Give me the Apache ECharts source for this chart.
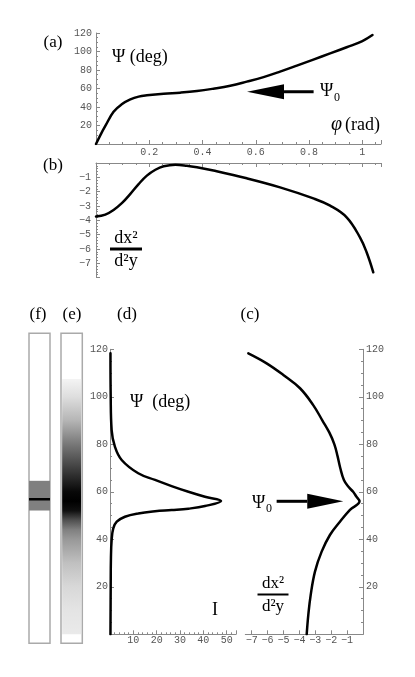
<!DOCTYPE html>
<html>
<head>
<meta charset="utf-8">
<script src="https://cdn.jsdelivr.net/npm/echarts@6/dist/echarts.min.js"></script>
<style>
html, body { margin: 0; padding: 0; background: #fff; }
#chart { width: 415px; height: 677px; }
</style>
</head>
<body>
<div id="chart"></div>
<script>
// (a) Psi (deg) against phi (rad)
const phiA = [0, 0.016, 0.035, 0.066, 0.098, 0.129, 0.16, 0.191, 0.254, 0.316, 0.379, 0.441, 0.504, 0.566, 0.629, 0.691, 0.754, 0.816, 0.879, 0.941, 1.0, 1.038];
const psiA = [0, 9.4, 19.5, 34.9, 43.2, 48.2, 51.2, 52.6, 54.4, 55.5, 57.2, 59.8, 63.0, 67.4, 72.3, 78.2, 84.7, 91.3, 97.9, 104.6, 111.3, 117.8];

// (b) dx2/d2y against phi
const phiB = [0, 0.035, 0.066, 0.098, 0.129, 0.16, 0.191, 0.223, 0.254, 0.298, 0.341, 0.379, 0.441, 0.566, 0.691, 0.816, 0.879, 0.941, 0.991, 1.016, 1.041];
const curvB = [-3.74, -3.6, -3.28, -2.79, -2.16, -1.47, -0.88, -0.47, -0.23, -0.12, -0.19, -0.3, -0.53, -1.07, -1.7, -2.47, -2.98, -3.79, -5.19, -6.23, -7.63];

// (d) intensity I against Psi
const psiD = [0, 20, 32, 39.7, 44.6, 47.4, 49.5, 50.9, 51.8, 52.3, 52.9, 54.0, 56.1, 57.9, 60.0, 62.4, 65.0, 67.8, 73.4, 79.0, 86.0, 100, 118.3];
const intD = [0.2, 0.3, 0.4, 0.7, 1.4, 2.9, 6.4, 12.1, 19.3, 26.4, 33.6, 40.7, 47.6, 40.7, 33.6, 26.4, 19.3, 12.1, 5.0, 2.1, 0.7, 0.3, 0.2];

// (c) dx2/d2y against Psi
const psiC = [0, 8.1, 16.5, 26.4, 34.8, 41.8, 47.4, 52.4, 56.0, 58.0, 60.0, 62.0, 65.0, 70.0, 75.0, 80.0, 85.0, 90.0, 96.5, 103.6, 109.2, 114.1, 118.3];
const curvC = [-3.54, -3.44, -3.29, -3.02, -2.6, -2.08, -1.45, -0.82, -0.22, -0.42, -0.62, -0.9, -1.2, -1.43, -1.6, -1.8, -2.12, -2.55, -3.13, -3.96, -5.01, -6.06, -7.21];

// (e) grey level against Psi
const psiE = [0, 10, 20, 30, 40, 44, 48, 52, 56, 60, 65, 70, 80, 90, 100, 107.5];
const greyE = [234, 228, 216, 192, 152, 128, 80, 16, 0, 8, 36, 64, 120, 181, 222, 244];

// (f) band and line
const bandF = [52.1, 64.6];
const lineF = 56.8;

// arrows [tail, tip]
const arrowA = [[0.817, 56.5], [0.567, 56.5]];
const arrowC = [[-5.43, 56], [-1.24, 56]];

const chart = echarts.init(document.getElementById('chart'));

const tickFont = { fontFamily: 'Liberation Mono', fontSize: 10, color: '#555' };
const lineCol = '#888';
const serif = 'Liberation Serif';

const isStep = (v, step) => Math.abs(v / step - Math.round(v / step)) < 1e-6;
const tickText = (step, lo) => (v) => {
    if (Math.abs(v) < 1e-9 || !isStep(v, step)) return '';
    if (lo !== undefined && v < lo) return '';
    return String(+v.toFixed(2)).replace('-', '\u2212');
};

const valueAxis = (gridIndex, min, max, extra) => Object.assign({
    type: 'value',
    gridIndex,
    min,
    max,
    splitLine: { show: false },
    axisLine: { show: true, onZero: false, lineStyle: { color: lineCol, width: 1 } },
    axisTick: { show: true, inside: true, length: 4, lineStyle: { color: lineCol } },
    minorTick: { show: true, splitNumber: 4, length: 2, lineStyle: { color: lineCol } },
    axisLabel: Object.assign({ margin: 3 }, tickFont)
}, extra);

const hiddenAxis = (gridIndex, type, min, max) => ({
    type, gridIndex, min, max, show: false,
    data: type === 'category' ? [''] : undefined,
    splitLine: { show: false }
});

const curve = (x, y, xi, yi) => ({
    type: 'line',
    xAxisIndex: xi,
    yAxisIndex: yi,
    data: x.map((v, i) => [v, y[i]]),
    showSymbol: false,
    smooth: 0.4,
    lineStyle: { color: '#000', width: 2.5, join: 'round', cap: 'round' },
    itemStyle: { color: '#000' },
    silent: true
});

const gradStops = psiE.map((p, i) => ({
    offset: 1 - p / psiE[psiE.length - 1],
    color: 'rgb(' + greyE[i] + ',' + greyE[i] + ',' + greyE[i] + ')'
})).reverse();

const option = {
    animation: false,
    backgroundColor: '#fff',
    grid: [
        { left: 96, top: 33, width: 285, height: 111 },
        { left: 96, top: 163, width: 285, height: 114.6 },
        { left: 110, top: 349.3, width: 126, height: 285 },
        { left: 245.3, top: 349.3, width: 117.7, height: 285 },
        { left: 61, top: 333.3, width: 21.3, height: 310, show: true, borderColor: '#aaa', borderWidth: 1.5, backgroundColor: 'transparent' },
        { left: 29, top: 333.3, width: 21, height: 310, show: true, borderColor: '#aaa', borderWidth: 1.5, backgroundColor: 'transparent' }
    ],
    xAxis: [
        valueAxis(0, 0, 1.07, { interval: 0.2, position: 'bottom',
            axisLabel: Object.assign({ margin: 3, formatter: tickText(0.2) }, tickFont) }),
        valueAxis(1, 0, 1.07, { interval: 0.2, position: 'top', axisLabel: { show: false } }),
        valueAxis(2, 0, 54, { interval: 10, position: 'bottom',
            minorTick: { show: true, splitNumber: 5, length: 2, lineStyle: { color: lineCol } },
            axisLabel: Object.assign({ margin: 1, formatter: tickText(10) }, tickFont) }),
        valueAxis(3, -7.4, 0, { position: 'bottom',
            axisTick: { show: true, inside: true, length: 4, lineStyle: { color: lineCol }, customValues: [-7, -6, -5, -4, -3, -2, -1, 0] },
            minorTick: { show: false },
            axisLabel: Object.assign({ margin: 1, customValues: [-7, -6, -5, -4, -3, -2, -1], formatter: tickText(1) }, tickFont) }),
        hiddenAxis(4, 'category'),
        hiddenAxis(5, 'value', 0, 1)
    ],
    yAxis: [
        valueAxis(0, 0, 120, { interval: 20, position: 'left',
            axisLabel: Object.assign({ margin: 4, formatter: tickText(20) }, tickFont) }),
        valueAxis(1, -8, 0, { interval: 1, position: 'left',
            minorTick: { show: true, splitNumber: 5, length: 2, lineStyle: { color: lineCol } },
            axisLabel: Object.assign({ margin: 5, formatter: tickText(1, -7.5) }, tickFont) }),
        valueAxis(2, 0, 120, { interval: 20, position: 'left',
            axisLabel: Object.assign({ margin: 2, formatter: tickText(20) }, tickFont) }),
        valueAxis(3, 0, 120, { interval: 20, position: 'right',
            axisLabel: Object.assign({ margin: 3, formatter: tickText(20) }, tickFont) }),
        hiddenAxis(4, 'value', -3.8, 126.7),
        hiddenAxis(5, 'value', -3.8, 126.7)
    ],
    series: [
        curve(phiA, psiA, 0, 0),
        curve(phiB, curvB, 1, 1),
        curve(intD, psiD, 2, 2),
        curve(curvC, psiC, 3, 3),
        {
            type: 'bar',
            xAxisIndex: 4,
            yAxisIndex: 4,
            data: [psiE[psiE.length - 1]],
            barWidth: 19,
            silent: true,
            itemStyle: { color: new echarts.graphic.LinearGradient(0, 0, 0, 1, gradStops) }
        },
        {
            type: 'line',
            xAxisIndex: 5,
            yAxisIndex: 5,
            data: [[0, lineF], [1, lineF]],
            showSymbol: false,
            silent: true,
            z: 5,
            lineStyle: { color: '#000', width: 2.5 },
            markArea: {
                silent: true,
                itemStyle: { color: '#808080' },
                data: [[{ yAxis: bandF[0] }, { yAxis: bandF[1] }]]
            }
        }
    ]
};
chart.setOption(option);

const txt = (text, x, y, size, extra) => ({
    type: 'text',
    x, y,
    silent: true,
    style: Object.assign({
        text,
        fontFamily: serif,
        fontSize: size,
        fill: '#000',
        textAlign: 'left',
        textVerticalAlign: 'middle'
    }, extra || {})
});

const fraction = (cx, y, w, barW, size) => [
    txt('dx\u00b2', cx, y - 11, size, { textAlign: 'center' }),
    { type: 'line', silent: true, shape: { x1: cx - w / 2, y1: y, x2: cx + w / 2, y2: y }, style: { stroke: '#000', lineWidth: barW } },
    txt('d\u00b2y', cx, y + 12, size, { textAlign: 'center' })
];

const arrow = (gridIndex, pts, headLen) => {
    const p0 = chart.convertToPixel({ gridIndex }, pts[0]);
    const p1 = chart.convertToPixel({ gridIndex }, pts[1]);
    const dir = Math.sign(p1[0] - p0[0]);
    const base = p1[0] - dir * headLen;
    return [
        { type: 'line', silent: true, shape: { x1: p0[0], y1: p0[1], x2: base, y2: p1[1] }, style: { stroke: '#000', lineWidth: 3 } },
        { type: 'polygon', silent: true, shape: { points: [[p1[0], p1[1]], [base, p1[1] - 7.5], [base, p1[1] + 7.5]] }, style: { fill: '#000' } }
    ];
};

const graphics = [
    txt('(a)', 53, 43, 17, { textAlign: 'center' }),
    txt('(b)', 53, 166, 17, { textAlign: 'center' }),
    txt('(f)', 38, 315, 17, { textAlign: 'center' }),
    txt('(e)', 72, 315, 17, { textAlign: 'center' }),
    txt('(d)', 127, 315, 17, { textAlign: 'center' }),
    txt('(c)', 250, 315, 17, { textAlign: 'center' }),
    txt('\u03a8 (deg)', 112, 57, 18),
    txt('\u03a8', 320, 91.5, 18),
    txt('0', 334, 98, 12),
    txt('\u03c6', 331, 125, 20, { fontStyle: 'italic' }),
    txt('(rad)', 345, 125, 18),
    txt('\u03a8  (deg)', 130, 402, 18),
    txt('I', 215, 610, 18, { textAlign: 'center' }),
    txt('\u03a8', 252, 503, 18),
    txt('0', 266, 509, 12)
]
    .concat(fraction(126, 249, 32, 3, 18))
    .concat(fraction(273, 594.5, 31, 2, 17))
    .concat(arrow(0, arrowA, 37))
    .concat(arrow(3, arrowC, 36));

chart.setOption({ graphic: graphics });
</script>
</body>
</html>
